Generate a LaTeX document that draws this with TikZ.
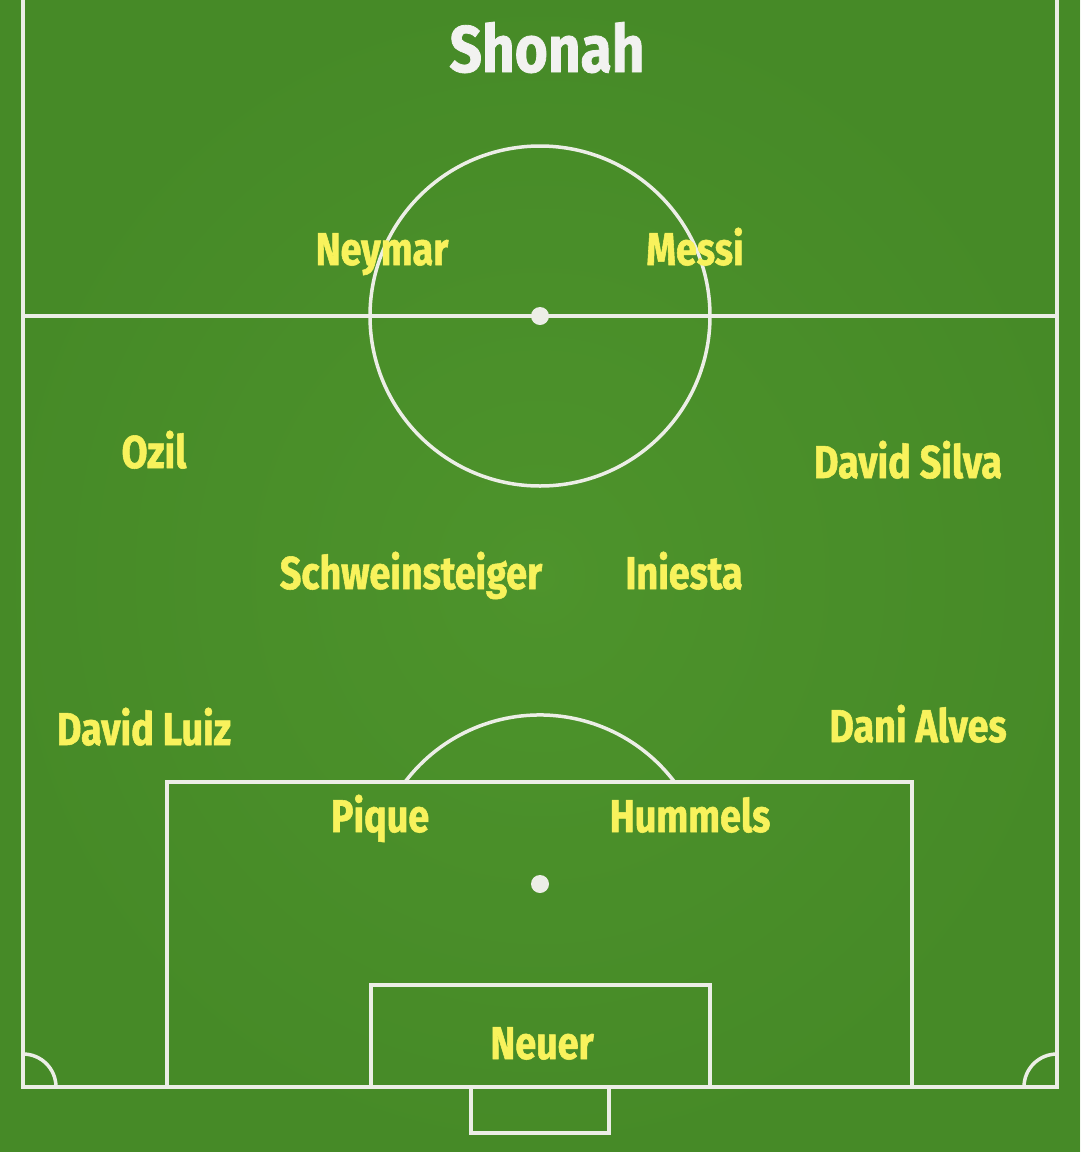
\documentclass[tikz,border=0pt]{standalone}
\usepackage{fontspec}
\newfontfamily\namefont[FakeStretch=0.82,BoldFeatures={FakeBold=1.2}]{Fira Sans}
\newfontfamily\titlefont[FakeStretch=0.86,BoldFeatures={FakeBold=1.2}]{Fira Sans}
\definecolor{grass}{RGB}{78,148,44}
\definecolor{grassdark}{RGB}{64,130,36}
\definecolor{chalk}{RGB}{236,238,230}
\definecolor{nameyellow}{RGB}{248,242,92}
\definecolor{titlewhite}{RGB}{242,242,240}
\tikzset{
  chalkline/.style={draw=chalk, line width=3.5pt},
  player/.style={text=nameyellow, font=\namefont\bfseries\fontsize{46}{50}\selectfont, inner sep=0pt, anchor=base},
  titletext/.style={text=titlewhite, font=\titlefont\bfseries\fontsize{66}{70}\selectfont, inner sep=0pt, anchor=base},
}
\begin{document}
\begin{tikzpicture}[x=1pt,y=-1pt]
\useasboundingbox (0,0) rectangle (1080,1152);
% grass
\fill[grass] (0,0) rectangle (1080,1152);
\shade[inner color=grass, outer color=grassdark, opacity=0.5] (0,0) rectangle (1080,1152);
% touchlines
\draw[chalkline] (23,-5) -- (23,1087) -- (1057,1087) -- (1057,-5);
% halfway line
\draw[chalkline] (23,316) -- (1057,316);
% centre circle and spot
\draw[chalkline] (540,316) circle[radius=170];
\fill[chalk] (540,316) circle[radius=9];
% penalty area
\draw[chalkline] (167,1087) -- (167,782) -- (912,782) -- (912,1087);
% penalty arc
\draw[chalkline] (405,782) arc[start angle=217.1, end angle=322.9, radius=169];
% penalty spot
\fill[chalk] (540,884) circle[radius=9];
% goal area
\draw[chalkline] (371,1087) -- (371,985) -- (710,985) -- (710,1087);
% goal
\draw[chalkline] (471,1087) -- (471,1133) -- (609,1133) -- (609,1087);
% corner arcs
\draw[chalkline] (23,1054) arc[start angle=-90, end angle=0, radius=33];
\draw[chalkline] (1057,1054) arc[start angle=-90, end angle=-180, radius=33];
% title
\node[titletext] (title) at (547,72) {Shonah};
% players
\node[player] (neymar) at (382,265) {Neymar};
\node[player] (messi) at (695,265) {Messi};
\node[player] (ozil) at (154,468) {Ozil};
\node[player] (silva) at (908,478) {David Silva};
\node[player] (schweinsteiger) at (411,589) {Schweinsteiger};
\node[player] (iniesta) at (684,589) {Iniesta};
\node[player] (luiz) at (144,745) {David Luiz};
\node[player] (alves) at (918,742) {Dani Alves};
\node[player] (pique) at (380,832) {Pique};
\node[player] (hummels) at (690,832) {Hummels};
\node[player] (neuer) at (542,1059) {Neuer};
\end{tikzpicture}
\end{document}
